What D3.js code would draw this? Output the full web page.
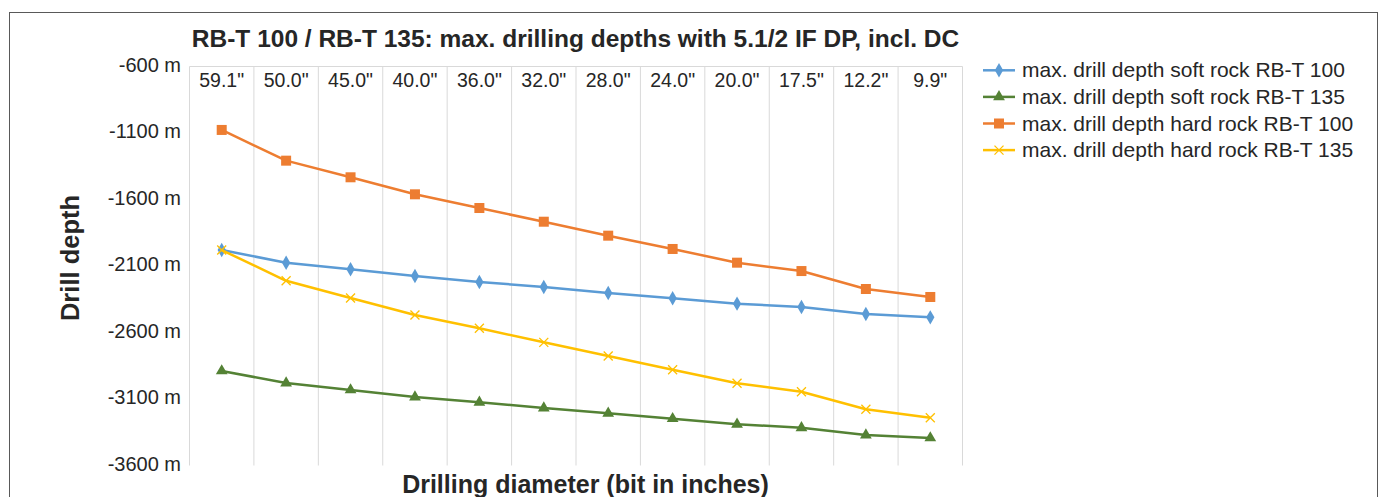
<!DOCTYPE html>
<html><head><meta charset="utf-8">
<script src="https://cdn.jsdelivr.net/npm/d3@7"></script>
<style>body{margin:0;background:#fff;} text{font-family:"Liberation Sans",Arial,sans-serif;}</style>
</head><body>
<svg id="c" width="1381" height="497"></svg>
<script>
const categories = ['59.1"','50.0"','45.0"','40.0"','36.0"','32.0"','28.0"','24.0"','20.0"','17.5"','12.2"','9.9"'];
const softRT100 = [-1980,-2075,-2125,-2175,-2220,-2258,-2303,-2343,-2383,-2408,-2461,-2486];
const softRT135 = [-2889,-2980,-3032,-3085,-3125,-3168,-3208,-3248,-3290,-3316,-3371,-3393];
const hardRT100 = [-1077,-1308,-1433,-1561,-1664,-1767,-1872,-1972,-2075,-2138,-2273,-2333];
const hardRT135 = [-1980,-2211,-2341,-2468,-2568,-2674,-2777,-2880,-2982,-3045,-3177,-3241];
const yTicks = [-600,-1100,-1600,-2100,-2600,-3100,-3600];
const seriesNames = ["max. drill depth soft rock RB-T 100","max. drill depth soft rock RB-T 135","max. drill depth hard rock RB-T 100","max. drill depth hard rock RB-T 135"];

const series = [
  {name:seriesNames[0], values:softRT100, color:"#5B9BD5", marker:"diamond"},
  {name:seriesNames[1], values:softRT135, color:"#548235", marker:"triangle"},
  {name:seriesNames[2], values:hardRT100, color:"#ED7D31", marker:"square"},
  {name:seriesNames[3], values:hardRT135, color:"#FFC000", marker:"x"}
];

const svg = d3.select("#c");
const L=189.5, R=962.5, T=66.5, B=465.5;

svg.append("rect").attr("x",9.5).attr("y",12.5).attr("width",1368).attr("height",520)
  .attr("fill","none").attr("stroke","#595959").attr("stroke-width",1);

const x = d3.scaleBand().domain(categories).range([L,R]);
const y = d3.scaleLinear().domain([-600,-3600]).range([T,B]);

const gridX = categories.map(c=>x(c)).concat([R]);
svg.append("g").selectAll("line").data(gridX).join("line")
  .attr("x1",d=>d).attr("x2",d=>d).attr("y1",T).attr("y2",B)
  .attr("stroke","#D9D9D9").attr("stroke-width",1);
svg.append("line").attr("x1",L).attr("x2",R).attr("y1",T).attr("y2",T).attr("stroke","#D9D9D9");

svg.append("g").selectAll("text").data(categories).join("text")
  .attr("x",d=>x(d)+x.bandwidth()/2).attr("y",87).attr("text-anchor","middle")
  .attr("font-size",19.5).attr("fill","#262626").text(d=>d);

svg.append("g").selectAll("text").data(yTicks).join("text")
  .attr("x",181).attr("y",d=>y(d)+5).attr("text-anchor","end")
  .attr("font-size",20).attr("fill","#262626").text(d=>d+" m");

svg.append("text").attr("x",575.5).attr("y",47).attr("text-anchor","middle")
  .attr("font-size",24.5).attr("font-weight","bold").attr("fill","#262626")
  .text("RB-T 100 / RB-T 135: max. drilling depths with 5.1/2 IF DP, incl. DC");

svg.append("text").attr("transform","translate(79,258) rotate(-90)").attr("text-anchor","middle")
  .attr("font-size",25.5).attr("font-weight","bold").attr("fill","#262626").text("Drill depth");
svg.append("text").attr("x",585.5).attr("y",493).attr("text-anchor","middle")
  .attr("font-size",25).attr("font-weight","bold").attr("fill","#262626").text("Drilling diameter (bit in inches)");

function drawMarker(g, type, color, cx, cy){
  if(type==="diamond"){
    g.append("path").attr("d",d3.symbol(d3.symbolDiamond, 60)()).attr("transform",`translate(${cx},${cy})`).attr("fill",color);
  } else if(type==="triangle"){
    g.append("path").attr("d",d3.symbol(d3.symbolTriangle, 60)()).attr("transform",`translate(${cx},${cy})`).attr("fill",color);
  } else if(type==="square"){
    g.append("rect").attr("x",cx-5).attr("y",cy-5).attr("width",10).attr("height",10).attr("fill",color);
  } else {
    g.append("path").attr("d",`M${cx-4.5},${cy-4.5}L${cx+4.5},${cy+4.5}M${cx-4.5},${cy+4.5}L${cx+4.5},${cy-4.5}`)
      .attr("stroke",color).attr("stroke-width",1.3).attr("fill","none");
  }
}

const line = d3.line().x((d,i)=>x(categories[i])+x.bandwidth()/2).y(d=>y(d));
series.forEach(s=>{
  const g = svg.append("g");
  g.append("path").attr("d",line(s.values)).attr("fill","none").attr("stroke",s.color).attr("stroke-width",2.5).attr("stroke-linejoin","round");
  s.values.forEach((v,i)=>drawMarker(g,s.marker,s.color,x(categories[i])+x.bandwidth()/2,y(v)));
});

const lg = svg.append("g");
series.forEach((s,i)=>{
  const ly = 70.3 + i*26.6;
  lg.append("line").attr("x1",983).attr("x2",1015).attr("y1",ly).attr("y2",ly).attr("stroke",s.color).attr("stroke-width",2.5);
  drawMarker(lg,s.marker,s.color,999,ly);
  lg.append("text").attr("x",1022).attr("y",ly+7).attr("font-size",21).attr("fill","#262626").text(s.name);
});
</script>
</body></html>
